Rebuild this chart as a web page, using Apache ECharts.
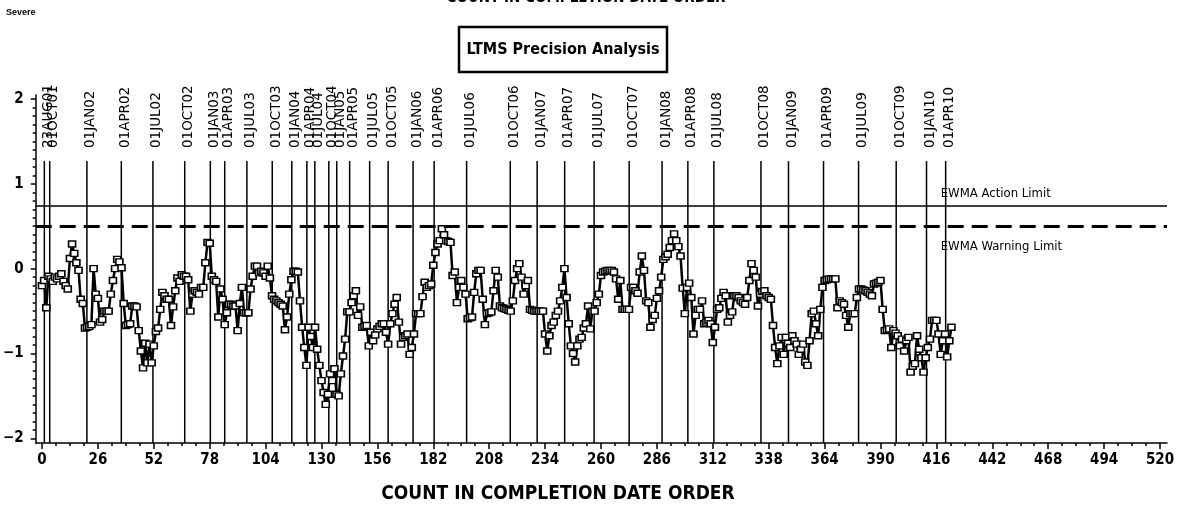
<!DOCTYPE html>
<html><head><meta charset="utf-8">
<script src="https://cdn.jsdelivr.net/npm/echarts@6/dist/echarts.min.js"></script>
<style>html,body{margin:0;padding:0;background:#fff}#c{width:1183px;height:508px}</style>
</head><body><div id="c"></div>
<script>
// EWMA values, one per count in completion date order (count 0..423)
const ewma = [
-0.20,-0.14,-0.46,-0.09,-0.12,-0.15,-0.10,-0.12,-0.09,-0.06,
-0.15,-0.20,-0.24,0.12,0.29,0.18,0.07,-0.02,-0.36,-0.41,
-0.70,-0.69,-0.68,-0.66,0.00,-0.30,-0.35,-0.63,-0.60,-0.50,
-0.50,-0.50,-0.30,-0.14,0.00,0.11,0.08,0.01,-0.41,-0.67,
-0.66,-0.65,-0.44,-0.44,-0.45,-0.73,-0.97,-1.17,-0.88,-1.11,
-0.89,-1.11,-0.91,-0.74,-0.70,-0.48,-0.28,-0.32,-0.36,-0.36,
-0.67,-0.45,-0.26,-0.11,-0.15,-0.07,-0.09,-0.09,-0.13,-0.50,
-0.30,-0.26,-0.28,-0.30,-0.22,-0.22,0.07,0.31,0.30,-0.09,
-0.13,-0.15,-0.57,-0.24,-0.36,-0.66,-0.52,-0.42,-0.42,-0.44,
-0.44,-0.73,-0.41,-0.22,-0.52,-0.52,-0.52,-0.24,-0.09,0.03,
0.03,-0.05,-0.03,-0.05,-0.09,0.03,-0.11,-0.32,-0.36,-0.38,
-0.40,-0.42,-0.44,-0.72,-0.57,-0.30,-0.13,-0.03,-0.03,-0.04,
-0.38,-0.69,-0.93,-1.14,-0.69,-0.80,-0.93,-0.69,-0.95,-1.14,
-1.32,-1.46,-1.60,-1.48,-1.24,-1.32,-1.18,-1.48,-1.50,-1.24,
-1.03,-0.83,-0.51,-0.51,-0.40,-0.32,-0.26,-0.55,-0.45,-0.69,
-0.68,-0.67,-0.91,-0.75,-0.85,-0.78,-0.71,-0.68,-0.65,-0.65,
-0.75,-0.89,-0.65,-0.53,-0.42,-0.34,-0.63,-0.89,-0.81,-0.79,
-0.77,-1.01,-0.93,-0.77,-0.53,-0.53,-0.53,-0.33,-0.16,-0.22,
-0.20,-0.18,0.04,0.19,0.29,0.33,0.47,0.40,0.33,0.32,
0.31,-0.08,-0.04,-0.40,-0.22,-0.14,-0.22,-0.30,-0.59,-0.58,
-0.57,-0.28,-0.06,-0.02,-0.02,-0.36,-0.66,-0.53,-0.52,-0.51,
-0.26,-0.02,-0.10,-0.44,-0.46,-0.47,-0.48,-0.49,-0.50,-0.38,
-0.14,0.00,0.06,-0.10,-0.30,-0.20,-0.14,-0.48,-0.49,-0.50,
-0.50,-0.50,-0.50,-0.50,-0.77,-0.97,-0.79,-0.67,-0.63,-0.55,
-0.50,-0.38,-0.22,0.00,-0.34,-0.65,-0.91,-1.00,-1.10,-0.91,
-0.83,-0.81,-0.70,-0.65,-0.44,-0.71,-0.50,-0.50,-0.40,-0.30,
-0.08,-0.04,-0.03,-0.02,-0.02,-0.02,-0.04,-0.12,-0.36,-0.14,
-0.48,-0.48,-0.48,-0.48,-0.22,-0.22,-0.26,-0.29,-0.04,0.15,
-0.02,-0.38,-0.40,-0.69,-0.60,-0.55,-0.35,-0.26,-0.10,0.11,
0.14,0.17,0.25,0.33,0.41,0.33,0.26,0.15,-0.23,-0.53,
-0.22,-0.17,-0.34,-0.77,-0.55,-0.48,-0.48,-0.38,-0.65,-0.63,
-0.61,-0.65,-0.87,-0.69,-0.48,-0.46,-0.35,-0.28,-0.32,-0.63,
-0.55,-0.51,-0.32,-0.32,-0.34,-0.38,-0.40,-0.42,-0.34,-0.14,
0.06,-0.02,-0.10,-0.44,-0.30,-0.27,-0.26,-0.32,-0.34,-0.36,
-0.67,-0.93,-1.12,-0.91,-0.81,-1.01,-0.81,-0.88,-0.93,-0.79,
-0.85,-0.89,-1.01,-0.95,-0.89,-1.10,-1.14,-0.85,-0.53,-0.50,
-0.65,-0.79,-0.48,-0.22,-0.14,-0.13,-0.12,-0.12,-0.12,-0.12,
-0.46,-0.38,-0.40,-0.42,-0.55,-0.69,-0.53,-0.53,-0.53,-0.34,
-0.24,-0.24,-0.25,-0.26,-0.28,-0.30,-0.32,-0.18,-0.17,-0.16,
-0.14,-0.48,-0.73,-0.72,-0.71,-0.93,-0.73,-0.76,-0.79,-0.91,
-0.83,-0.97,-0.85,-0.81,-1.22,-1.15,-1.12,-0.79,-0.95,-1.05,
-1.22,-1.05,-0.93,-0.83,-0.61,-0.61,-0.61,-0.77,-1.01,-0.85,
-0.77,-1.04,-0.85,-0.69
];
const dateLabels = ['23AUG01','01OCT01','01JAN02','01APR02','01JUL02','01OCT02','01JAN03','01APR03','01JUL03','01OCT03',
'01JAN04','01APR04','01JUL04','01OCT04','01JAN05','01APR05','01JUL05','01OCT05','01JAN06','01APR06',
'01JUL06','01OCT06','01JAN07','01APR07','01JUL07','01OCT07','01JAN08','01APR08','01JUL08','01OCT08',
'01JAN09','01APR09','01JUL09','01OCT09','01JAN10','01APR10'];
const datePositions = [1.1,3.6,20.9,36.9,51.6,66.4,78.3,85.0,95.3,107.1,
116.2,123.2,126.9,133.4,137.1,143.1,152.4,161.0,172.6,182.4,
197.5,217.8,230.3,243.1,256.8,273.1,288.4,300.4,312.5,334.4,
347.2,363.5,379.8,397.3,411.4,420.3];
const xTickValues = [0,26,52,78,104,130,156,182,208,234,260,286,312,338,364,390,416,442,468,494,520];
const yTickValues = [-2,-1,0,1,2];
const actionLimit = 0.743;
const warningLimit = 0.5;
const limitTexts = ['EWMA Action Limit','EWMA Warning Limit'];
const limitValues = [actionLimit, warningLimit];

// layout constants
const X_MIN = -2.92, X_MAX = 523.25, Y_MIN = -2.055, Y_MAX = 2.047;
const LINE_TOP = 1.269;
const LIMIT_LABEL_X = 418;
const limitLabelDy = [-12, 20];
const NARROW = "'Liberation Sans Narrow','DejaVu Sans Condensed','Arial Narrow',sans-serif";

const xMinor = [];
for (let v = 0; v <= 520; v += 6.5) if (v % 26 !== 0) xMinor.push(v);
const yMinor = [];
for (let k = -20; k <= 20; k++) if (k % 10 !== 0) yMinor.push(k / 10);

const lineData = ewma.map((v, i) => [i, v]);

const chart = echarts.init(document.getElementById('c'), null, {renderer: 'canvas'});
const tickStyle = {color: '#000', width: 1.5};
const option = {
  animation: false,
  backgroundColor: '#fff',
  grid: {left: 32, right: 16, top: 95, bottom: 65, containLabel: false},
  xAxis: [
    {
      type: 'value', min: X_MIN, max: X_MAX, splitLine: {show: false}, position: 'bottom',
      axisLine: {show: true, onZero: false, lineStyle: {color: '#000', width: 1.5}},
      axisTick: {show: true, customValues: xTickValues, length: 6, lineStyle: tickStyle},
      axisLabel: {customValues: xTickValues, margin: 10, color: '#000', fontFamily: NARROW, fontWeight: 'bold', fontSize: 15}
    },
    {
      type: 'value', min: X_MIN, max: X_MAX, splitLine: {show: false}, position: 'bottom',
      axisLine: {show: false, onZero: false},
      axisTick: {show: true, customValues: xMinor, length: 3, lineStyle: tickStyle},
      axisLabel: {show: false}
    }
  ],
  yAxis: [
    {
      type: 'value', min: Y_MIN, max: Y_MAX, splitLine: {show: false}, position: 'left',
      axisLine: {show: true, onZero: false, lineStyle: {color: '#000', width: 1.5}},
      axisTick: {show: true, customValues: yTickValues, length: 5, lineStyle: tickStyle},
      axisLabel: {customValues: yTickValues, margin: 12, color: '#000', fontFamily: NARROW, fontWeight: 'bold', fontSize: 15,
        formatter: v => v < 0 ? '\u2212' + (-v) : String(v)}
    },
    {
      type: 'value', min: Y_MIN, max: Y_MAX, splitLine: {show: false}, position: 'left',
      axisLine: {show: false, onZero: false},
      axisTick: {show: true, customValues: yMinor, length: 3, lineStyle: tickStyle},
      axisLabel: {show: false}
    }
  ],
  series: [
    {
      type: 'custom',
      z: 1,
      silent: true,
      data: datePositions.map(p => [p]),
      encode: {x: 0},
      renderItem: function (params, api) {
        const x = api.value(0);
        const top = api.coord([x, LINE_TOP]);
        const bot = api.coord([x, Y_MIN]);
        return {
          type: 'group',
          children: [
            {type: 'line', shape: {x1: top[0], y1: top[1], x2: bot[0], y2: bot[1]},
              style: {stroke: '#000', lineWidth: 1.5}},
            {type: 'text', x: top[0] + 4, y: top[1] - 13, rotation: Math.PI / 2,
              style: {text: dateLabels[params.dataIndex], font: '13.5px "DejaVu Sans", sans-serif', fill: '#000',
                align: 'left', verticalAlign: 'middle'}}
          ]
        };
      }
    },
    {
      type: 'line',
      z: 3,
      data: lineData,
      symbol: 'rect',
      symbolSize: [7, 6],
      showSymbol: true,
      showAllSymbol: true,
      lineStyle: {color: '#000', width: 2.5},
      itemStyle: {color: '#fff', borderColor: '#000', borderWidth: 1.5},
      emphasis: {disabled: true},
      silent: true,
      markLine: {
        silent: true,
        symbol: ['none', 'none'],
        label: {show: false},
        data: [
          {yAxis: actionLimit, lineStyle: {color: '#000', type: 'solid', width: 1.5}},
          {yAxis: warningLimit, lineStyle: {color: '#000', type: [16, 8], width: 3}}
        ]
      }
    },
    {
      type: 'custom',
      z: 4,
      silent: true,
      data: limitValues.map(v => [LIMIT_LABEL_X, v]),
      encode: {x: 0, y: 1},
      renderItem: function (params, api) {
        const p = api.coord([api.value(0), api.value(1)]);
        return {type: 'text', x: p[0], y: p[1] + limitLabelDy[params.dataIndex],
          style: {text: limitTexts[params.dataIndex], font: '13px ' + NARROW, fill: '#000', align: 'left', verticalAlign: 'middle'}};
      }
    }
  ],
  graphic: [
    {type: 'text', left: 6, top: 8, style: {text: 'Severe', font: 'bold 9px "Liberation Sans", Arial, sans-serif', fill: '#000'}},
    {type: 'text', x: 586, y: -2, style: {text: 'COUNT IN COMPLETION DATE ORDER', font: 'bold 15px ' + NARROW, fill: '#000', align: 'center', verticalAlign: 'middle'}},
    {type: 'rect', shape: {x: 459, y: 27, width: 208, height: 45}, style: {fill: '#fff', stroke: '#000', lineWidth: 2.5}},
    {type: 'text', x: 563, y: 50, style: {text: 'LTMS Precision Analysis', font: 'bold 16px ' + NARROW, fill: '#000', align: 'center', verticalAlign: 'middle'}},
    {type: 'text', x: 558, y: 494, style: {text: 'COUNT IN COMPLETION DATE ORDER', font: 'bold 19px ' + NARROW, fill: '#000', align: 'center', verticalAlign: 'middle'}}
  ]
};
chart.setOption(option);
</script>
</body></html>
